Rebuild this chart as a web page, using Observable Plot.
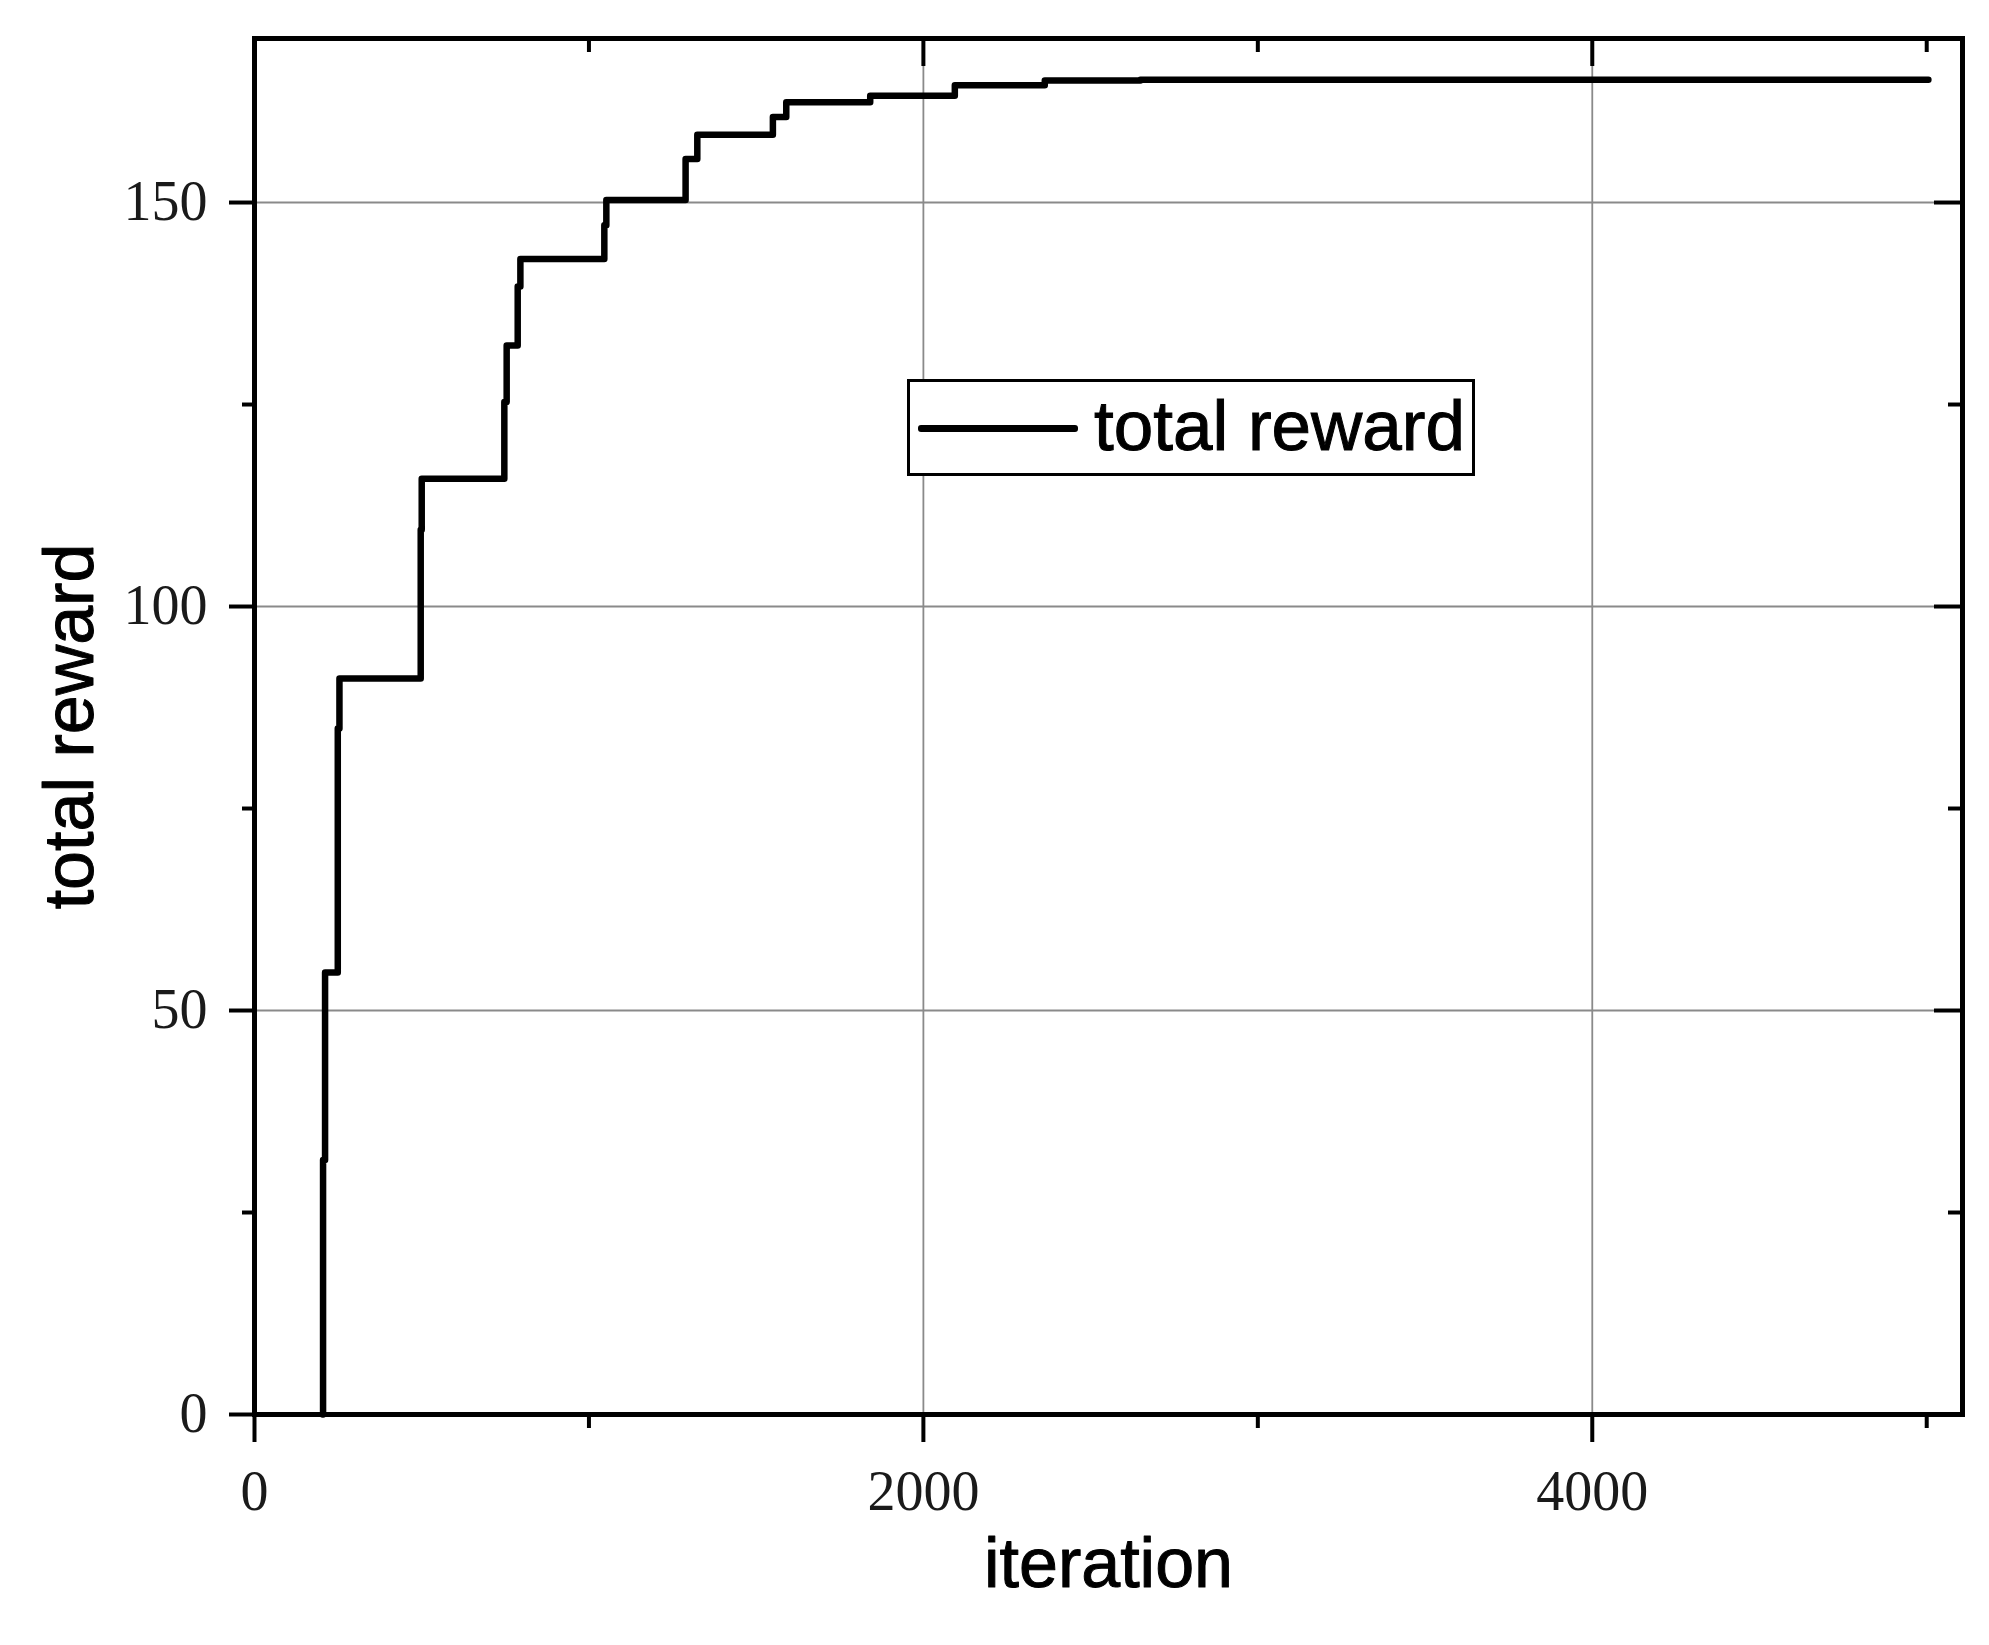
<!DOCTYPE html>
<html>
<head>
<meta charset="utf-8">
<script src="https://cdn.jsdelivr.net/npm/d3@7"></script>
<script src="https://cdn.jsdelivr.net/npm/@observablehq/plot@0.6"></script>
<style>
  html, body { margin: 0; padding: 0; background: #fff; }
  #wrap { position: relative; width: 1989px; height: 1645px; }
  #legend {
    position: absolute; left: 907px; top: 379px; width: 562px; height: 91px;
    border: 3px solid #000; background: #fff; box-sizing: content-box;
    font-family: "Liberation Sans", Arial, sans-serif; font-size: 71px; color: #000;
  }
  #legend .sw { position: absolute; left: 8px; top: 43px; width: 160px; height: 7px; background: #000; border-radius: 3px; }
  #legend .tx { position: absolute; left: 184px; top: -2px; line-height: 91px; white-space: nowrap; -webkit-text-stroke: 1px #000; }
</style>
</head>
<body>
<div id="wrap"></div>
<script>
// ---- data ----
const iteration   = [204, 205, 211, 249, 254, 497, 500, 747, 754, 787, 795, 1046, 1052, 1289, 1324, 1550, 1590, 1841, 2094, 2363, 2649, 5005];
const totalReward = [0, 31.5, 54.7, 84.9, 91.1, 109.5, 115.8, 125.3, 132.3, 139.6, 143.0, 147.2, 150.3, 155.4, 158.4, 160.6, 162.4, 163.2, 164.5, 165.1, 165.2, 165.2];
const xMajor = [0, 2000, 4000];
const xMinor = [1000, 3000, 5000];
const yMajor = [0, 50, 100, 150];
const yMinor = [25, 75, 125];
const xGrid = [2000, 4000];
const yGrid = [50, 100, 150];
const xTitle = ["iteration"];
const yTitle = ["total reward"];
const seriesName = "total reward";

const data = iteration.map((x, i) => ({x, y: totalReward[i]}));

const W = 1989, H = 1645;
const mL = 254, mR = 27, mT = 38, mB = 231;
const innerW = W - mL - mR, innerH = H - mT - mB;
const fmt = d => String(d);

const chart = Plot.plot({
  width: W, height: H,
  marginLeft: mL, marginRight: mR, marginTop: mT, marginBottom: mB,
  style: {fontFamily: "'Liberation Serif', serif", fontSize: "56px", color: "#000", background: "#fff"},
  x: {domain: [0, 5107]},
  y: {domain: [0, 170.3]},
  marks: [
    Plot.ruleY(yGrid, {y: d => d, stroke: "#8a8a8a", strokeWidth: 1.8}),
    Plot.ruleX(xGrid, {x: d => d, stroke: "#8a8a8a", strokeWidth: 1.8}),
    Plot.line(data, {x: "x", y: "y", curve: "step-after", stroke: "#000", strokeWidth: 6.5}),
    // outward ticks + labels
    Plot.axisY(yMajor, {anchor: "left", tickSize: 25, tickPadding: 22, strokeWidth: 4, label: null, tickFormat: fmt, fontSize: 56, fontFamily: "Liberation Serif", fill: "#1a1a1a"}),
    Plot.axisY(yMinor, {anchor: "left", tickSize: 12, strokeWidth: 4, label: null, tickFormat: () => ""}),
    Plot.axisX(xMajor, {anchor: "bottom", tickSize: 28, tickPadding: 28, strokeWidth: 4, label: null, tickFormat: fmt, fontSize: 56, fontFamily: "Liberation Serif", fill: "#1a1a1a"}),
    Plot.axisX(xMinor, {anchor: "bottom", tickSize: 14, strokeWidth: 4, label: null, tickFormat: () => ""}),
    // inward ticks on top and right
    Plot.tickY(yMajor, {y: d => d, insetLeft: innerW - 28, stroke: "#000", strokeWidth: 4}),
    Plot.tickY(yMinor, {y: d => d, insetLeft: innerW - 14, stroke: "#000", strokeWidth: 4}),
    Plot.tickX(xMajor, {x: d => d, insetBottom: innerH - 28, stroke: "#000", strokeWidth: 4}),
    Plot.tickX(xMinor, {x: d => d, insetBottom: innerH - 14, stroke: "#000", strokeWidth: 4}),
    Plot.frame({stroke: "#000", strokeWidth: 5}),
    // axis titles
    Plot.text(yTitle, {text: d => d, frameAnchor: "left", dx: -184, rotate: -90, textAnchor: "middle", lineAnchor: "middle",
      fontSize: 70, fontFamily: "Liberation Sans", fill: "#000", stroke: "#000", strokeWidth: 1}),
    Plot.text(xTitle, {text: d => d, frameAnchor: "bottom", dy: 150, textAnchor: "middle", lineAnchor: "middle",
      fontSize: 70, fontFamily: "Liberation Sans", fill: "#000", stroke: "#000", strokeWidth: 1})
  ]
});

const wrap = document.getElementById("wrap");
wrap.appendChild(chart);
const legend = document.createElement("div");
legend.id = "legend";
legend.innerHTML = '<div class="sw"></div><div class="tx"></div>';
legend.querySelector(".tx").textContent = seriesName;
wrap.appendChild(legend);
</script>
</body>
</html>
